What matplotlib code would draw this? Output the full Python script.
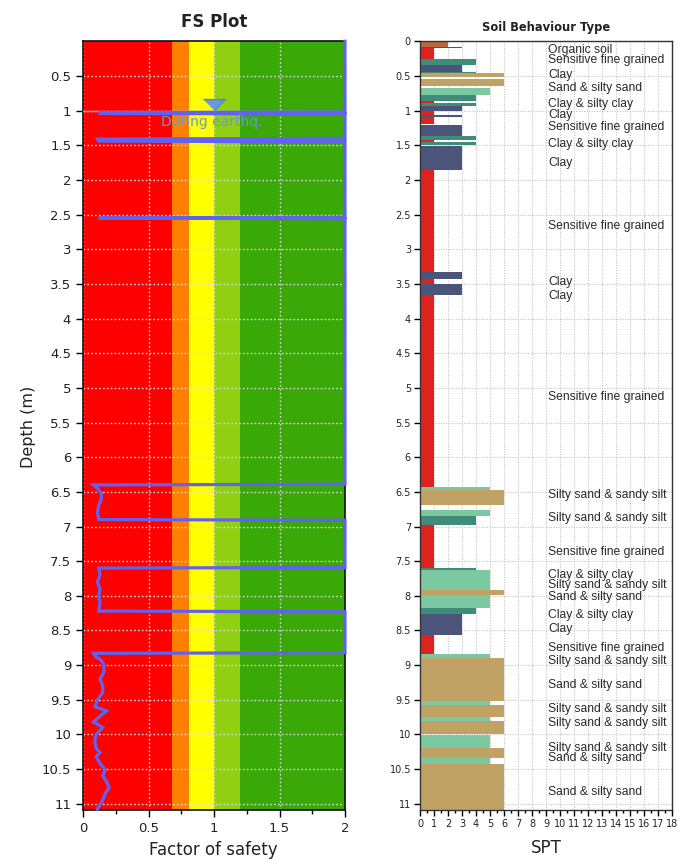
import matplotlib
matplotlib.use('Agg')
import matplotlib.pyplot as plt
from matplotlib.ticker import MultipleLocator, FuncFormatter

# ---------------- FS plot data ----------------
fs_depth = [0.00, 1.02, 1.03, 1.04, 1.05, 1.40, 1.41, 1.44, 1.45, 2.54, 2.55, 2.56,
            6.39, 6.40, 6.45, 6.52, 6.60, 6.70, 6.80, 6.90, 6.91,
            7.59, 7.60, 7.70, 7.80, 7.90, 8.00, 8.10, 8.22, 8.23,
            8.82, 8.83, 8.88, 8.93, 9.00, 9.10, 9.20, 9.30, 9.40, 9.50, 9.60, 9.66,
            9.72, 9.82, 9.90, 10.00, 10.10, 10.20, 10.26, 10.32, 10.42, 10.51, 10.60,
            10.68, 10.77, 10.85, 10.95, 11.08]
fs_value = [2.0, 2.0, 0.13, 0.13, 2.0, 2.0, 0.11, 0.12, 2.0, 2.0, 0.12, 2.0,
            2.0, 0.08, 0.11, 0.14, 0.14, 0.12, 0.11, 0.12, 2.0,
            2.0, 0.12, 0.13, 0.11, 0.13, 0.12, 0.13, 0.12, 2.0,
            2.0, 0.08, 0.10, 0.14, 0.16, 0.16, 0.13, 0.15, 0.15, 0.11, 0.09, 0.18,
            0.14, 0.08, 0.15, 0.10, 0.09, 0.10, 0.13, 0.10, 0.13, 0.17, 0.15,
            0.18, 0.20, 0.17, 0.15, 0.11]

band_edges = [0.0, 0.68, 0.81, 1.0, 1.2, 2.0]
band_colors = ['#FF0000', '#FF8000', '#FFFF00', '#90D010', '#3AA806']

water_depth = 1.0
water_fs = 1.0
water_label = 'During earthq.'

# ---------------- Soil behaviour type data ----------------
layer_top = [0.00, 0.08, 0.10, 0.26, 0.34, 0.44, 0.46, 0.54, 0.68, 0.78, 0.86, 0.89,
             0.94, 1.00, 1.06, 1.09, 1.21, 1.37, 1.43, 1.46, 1.51, 1.85, 3.33, 3.43,
             3.50, 3.66, 6.43, 6.48, 6.76, 6.85, 6.98, 7.60, 7.63, 7.91, 7.99, 8.18,
             8.26, 8.57, 8.84, 8.89, 9.52, 9.58, 9.75, 9.80, 10.01, 10.19, 10.34, 10.42]
layer_bottom = [0.08, 0.10, 0.26, 0.34, 0.44, 0.46, 0.52, 0.65, 0.78, 0.86, 0.89, 0.93,
                1.00, 1.06, 1.09, 1.20, 1.37, 1.43, 1.46, 1.50, 1.85, 3.33, 3.43, 3.50,
                3.66, 6.43, 6.48, 6.69, 6.85, 6.98, 7.60, 7.63, 7.91, 7.99, 8.18, 8.26,
                8.57, 8.84, 8.89, 9.52, 9.58, 9.75, 9.80, 10.00, 10.19, 10.34, 10.42, 11.10]
layer_spt = [2, 3, 1, 4, 3, 4, 6, 6, 5, 4, 1, 4,
             3, 1, 3, 1, 3, 4, 1, 4, 3, 1, 3, 1,
             3, 1, 5, 6, 5, 4, 1, 4, 5, 6, 5, 4,
             3, 1, 5, 6, 5, 6, 5, 6, 5, 6, 5, 6]
layer_type = ['Organic soil', 'Clay', 'Sensitive fine grained', 'Clay & silty clay', 'Clay',
              'Clay & silty clay', 'Sand & silty sand', 'Sand & silty sand',
              'Silty sand & sandy silt', 'Clay & silty clay', 'Sensitive fine grained',
              'Clay & silty clay', 'Clay', 'Sensitive fine grained', 'Clay',
              'Sensitive fine grained', 'Clay', 'Clay & silty clay', 'Sensitive fine grained',
              'Clay & silty clay', 'Clay', 'Sensitive fine grained', 'Clay',
              'Sensitive fine grained', 'Clay', 'Sensitive fine grained',
              'Silty sand & sandy silt', 'Sand & silty sand', 'Silty sand & sandy silt',
              'Clay & silty clay', 'Sensitive fine grained', 'Clay & silty clay',
              'Silty sand & sandy silt', 'Sand & silty sand', 'Silty sand & sandy silt',
              'Clay & silty clay', 'Clay', 'Sensitive fine grained',
              'Silty sand & sandy silt', 'Sand & silty sand', 'Silty sand & sandy silt',
              'Sand & silty sand', 'Silty sand & sandy silt', 'Sand & silty sand',
              'Silty sand & sandy silt', 'Sand & silty sand', 'Silty sand & sandy silt',
              'Sand & silty sand']
soil_colors = {
    'Organic soil': '#B8693E',
    'Sensitive fine grained': '#DC2320',
    'Clay': '#4A5579',
    'Clay & silty clay': '#3F8C7B',
    'Silty sand & sandy silt': '#7CC9A1',
    'Sand & silty sand': '#C1A265',
}

label_depth = [0.12, 0.27, 0.48, 0.68, 0.90, 1.06, 1.24, 1.48, 1.76, 2.67, 3.47, 3.67,
               5.13, 6.55, 6.88, 7.37, 7.70, 7.85, 8.01, 8.28, 8.48, 8.76, 8.94, 9.29,
               9.64, 9.84, 10.19, 10.34, 10.83]
label_text = ['Organic soil', 'Sensitive fine grained', 'Clay', 'Sand & silty sand',
              'Clay & silty clay', 'Clay', 'Sensitive fine grained', 'Clay & silty clay',
              'Clay', 'Sensitive fine grained', 'Clay', 'Clay', 'Sensitive fine grained',
              'Silty sand & sandy silt', 'Silty sand & sandy silt', 'Sensitive fine grained',
              'Clay & silty clay', 'Silty sand & sandy silt', 'Sand & silty sand',
              'Clay & silty clay', 'Clay', 'Sensitive fine grained',
              'Silty sand & sandy silt', 'Sand & silty sand', 'Silty sand & sandy silt',
              'Silty sand & sandy silt', 'Silty sand & sandy silt', 'Sand & silty sand',
              'Sand & silty sand']
label_x = 9.15

depth_max = 11.09

W, H = 679, 861
fig = plt.figure(figsize=(W / 100, H / 100), dpi=100)
ax1 = fig.add_axes([83 / W, 51 / H, 262 / W, 768.7 / H])
ax2 = fig.add_axes([420 / W, 51 / H, 252 / W, 768.7 / H])

fmt = FuncFormatter(lambda v, p: '{:g}'.format(round(v, 3)))

# ---------- left: FS plot ----------
for i, c in enumerate(band_colors):
    ax1.axvspan(band_edges[i], band_edges[i + 1], color=c, lw=0, zorder=1)
ax1.set_axisbelow('line')
ax1.grid(True, which='major', color='#D8D8D8', linestyle=(0, (1.2, 1.6)), linewidth=1.0)
ax1.axhline(water_depth, color='#95A8CC', lw=1.0, zorder=2.6)
ax1.plot([water_fs], [water_depth - 0.17], marker=[(-1, 0), (1, 0), (0, -1)],
         markersize=16, color='#6A98D8', markeredgecolor='#5A88C8', zorder=4)
ax1.text(water_fs - 0.015, water_depth + 0.17, water_label, color='#6A98D8',
         fontsize=10, ha='center', va='center', zorder=3)
ax1.plot(fs_value, fs_depth, color='#6262F2', lw=2.3, zorder=5,
         solid_joinstyle='miter', clip_on=False)
ax1.set_xlim(0, 2)
ax1.set_ylim(depth_max, 0)
ax1.xaxis.set_major_locator(MultipleLocator(0.5))
ax1.xaxis.set_minor_locator(MultipleLocator(0.25))
ax1.set_yticks([t / 2 for t in range(1, 23)])
ax1.xaxis.set_major_formatter(fmt)
ax1.yaxis.set_major_formatter(fmt)
ax1.tick_params(axis='both', which='major', labelsize=9.5, length=5, width=1,
                labelcolor='#222222')
ax1.tick_params(axis='x', which='minor', length=3, width=1)
for s in ax1.spines.values():
    s.set_linewidth(1.2)
    s.set_color('#111111')

# ---------- right: soil behaviour type ----------
ax2.set_axisbelow(True)
ax2.grid(True, which='major', color='#C4C4C4', linestyle=(0, (1, 1.3)), linewidth=0.8)
for top, bot, spt, typ in zip(layer_top, layer_bottom, layer_spt, layer_type):
    ax2.barh(top, spt, height=bot - top, left=0, align='edge',
             color=soil_colors[typ], lw=0, zorder=2)
for d, t in zip(label_depth, label_text):
    ax2.text(label_x, d, t, fontsize=8.7, ha='left', va='center', color='#2A2A2A',
             family='Liberation Sans', zorder=3)
ax2.set_xlim(0, 18)
ax2.set_ylim(depth_max, 0)
ax2.xaxis.set_major_locator(MultipleLocator(1))
ax2.xaxis.set_minor_locator(MultipleLocator(0.5))
ax2.yaxis.set_major_locator(MultipleLocator(0.5))
ax2.xaxis.set_major_formatter(fmt)
ax2.yaxis.set_major_formatter(fmt)
ax2.tick_params(axis='both', which='major', labelsize=7, length=4, width=1,
                labelcolor='#222222', pad=2.5)
ax2.tick_params(axis='x', which='minor', length=2, width=1)
for s in ax2.spines.values():
    s.set_linewidth(1.0)
    s.set_color('#333333')

# ---------- titles / labels ----------
fig.text(214 / W, 1 - 22 / H, 'FS Plot', fontsize=12, fontweight='bold',
         ha='center', va='center', color='#222222')
fig.text(546 / W, 1 - 28 / H, 'Soil Behaviour Type', fontsize=8.3, fontweight='bold',
         ha='center', va='center', color='#222222')
fig.text(28 / W, 1 - 427 / H, 'Depth (m)', fontsize=11.5, rotation=90,
         ha='center', va='center', color='#222222')
fig.text(213 / W, 1 - 850 / H, 'Factor of safety', fontsize=12,
         ha='center', va='center', color='#222222')
fig.text(546 / W, 1 - 848 / H, 'SPT', fontsize=12,
         ha='center', va='center', color='#222222')

fig.savefig('out.png', dpi=100)
